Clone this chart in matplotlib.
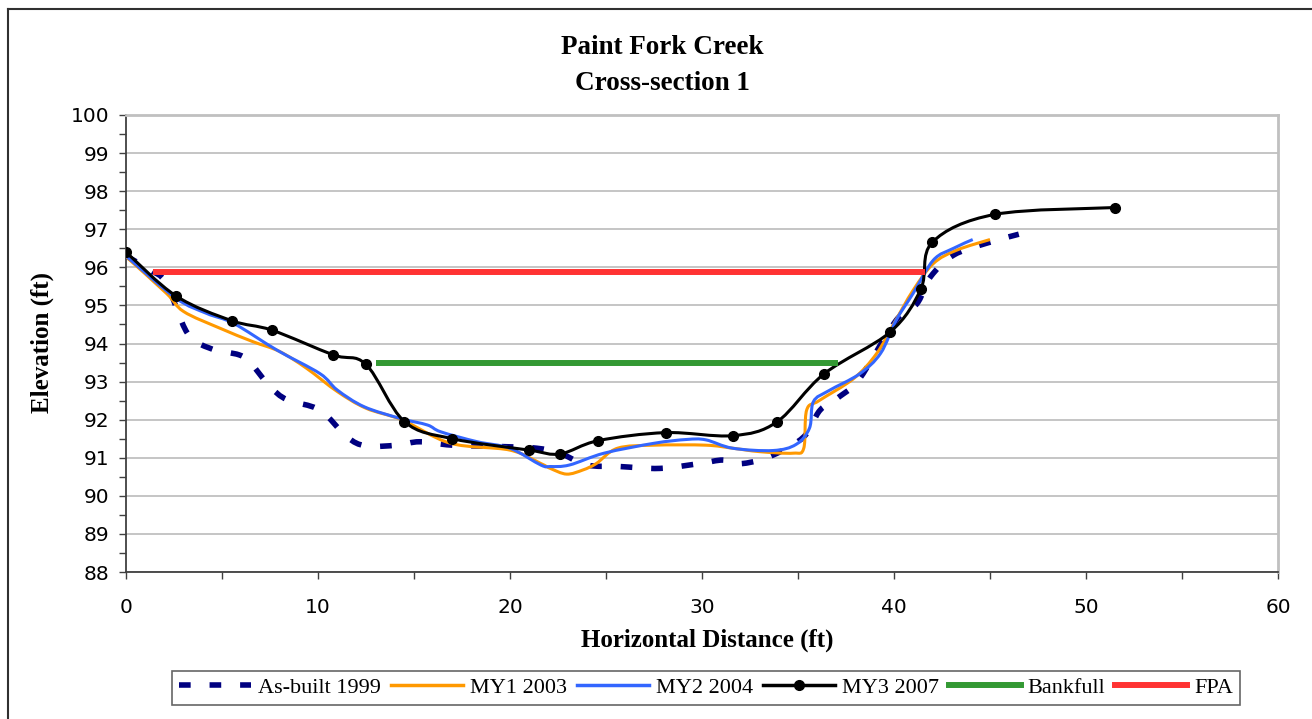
import numpy as np
import matplotlib
matplotlib.use("Agg")
import matplotlib.pyplot as plt
from matplotlib.path import Path
from matplotlib.patches import PathPatch
from matplotlib.lines import Line2D

# cross-section survey data
asbuilt_x = [0, 1.25, 2.1, 3.2, 4.4, 5.9, 6.5, 7.5, 8.4, 10.1, 11.5, 12.5, 14.1, 15.3,
             17.0, 19.8, 21.4, 22.6, 24.0, 25.7, 27.8, 29.9, 31.1, 32.15, 33.7, 35.3,
             36.15, 37.2, 38.2, 40.1, 41.2, 41.9, 43.1, 44.8, 46.5]
asbuilt_y = [96.3, 95.93, 95.58, 94.27, 93.87, 93.7, 93.48, 92.87, 92.52, 92.25, 91.55,
             91.31, 91.33, 91.42, 91.33, 91.29, 91.25, 91.12, 90.81, 90.77, 90.72, 90.85,
             90.94, 90.85, 91.07, 91.55, 92.25, 92.62, 93.07, 94.6, 95.05, 95.75, 96.32,
             96.63, 96.87]

my1_x = [0, 2.1, 3.0, 4.9, 6.6, 8.0, 9.4, 11.0, 12.5, 14.4, 16.9, 20.0, 21.6, 22.1, 22.95,
         23.8, 24.5, 25.6, 27.5, 30.2, 31.6, 33.0, 34.75, 35.3, 35.45, 36.1, 37.9, 39.1,
         40.0, 41.0, 42.05, 43.26, 45.0]
my1_y = [96.28, 95.32, 94.84, 94.4, 94.05, 93.79, 93.35, 92.74, 92.3, 91.99, 91.38, 91.2,
         90.85, 90.72, 90.57, 90.68, 90.85, 91.25, 91.33, 91.33, 91.25, 91.16, 91.12, 91.25,
         92.25, 92.5, 93.08, 93.74, 94.53, 95.4, 96.1, 96.45, 96.73]

my2_x = [0, 2.6, 4.2, 5.6, 7.85, 10.1, 11.0, 12.4, 14.3, 15.7, 16.4, 18.3, 20.0, 21.6, 22.1,
         23.1, 24.9, 27.5, 29.2, 30.2, 31.6, 33.7, 34.9, 35.6, 35.8, 36.6, 38.2, 39.3, 40.1,
         41.0, 42.05, 43.1, 44.1]
my2_y = [96.3, 95.19, 94.79, 94.53, 93.83, 93.21, 92.78, 92.34, 92.03, 91.86, 91.68, 91.42,
         91.25, 90.81, 90.77, 90.81, 91.12, 91.38, 91.48, 91.47, 91.25, 91.19, 91.35, 91.78,
         92.47, 92.76, 93.2, 93.74, 94.6, 95.32, 96.19, 96.5, 96.73]

my3_x = [0, 2.6, 5.5, 7.6, 10.8, 12.5, 14.5, 17.0, 21.0, 22.6, 24.6, 28.1, 31.6, 33.9,
         36.35, 39.8, 41.4, 42.0, 45.26, 51.5]
my3_y = [96.4, 95.25, 94.6, 94.35, 93.7, 93.45, 91.95, 91.5, 91.2, 91.1, 91.45, 91.66,
         91.58, 91.94, 93.2, 94.3, 95.43, 96.66, 97.39, 97.57]

bankfull_x = [13.0, 37.1]
bankfull_y = [93.5, 93.5]
fpa_x = [1.4, 41.6]
fpa_y = [95.87, 95.87]

C_NAVY = "#000080"
C_ORANGE = "#FF9900"
C_BLUE = "#3366FF"
C_GREEN = "#339933"
C_RED = "#FF3333"


def smooth_path(xs, ys):
    # Excel-like smoothed line: cubic bezier segments through every data point
    p = np.column_stack([xs, ys]).astype(float)
    n = len(p)
    verts = [p[0]]
    codes = [Path.MOVETO]
    for i in range(n - 1):
        p0 = p[i - 1] if i > 0 else p[i]
        p3 = p[i + 2] if i + 2 < n else p[i + 1]
        c1 = p[i] + (p[i + 1] - p0) / 6.0
        c2 = p[i + 1] - (p3 - p[i]) / 6.0
        verts += [c1, c2, p[i + 1]]
        codes += [Path.CURVE4] * 3
    return Path(verts, codes)


fig = plt.figure(figsize=(13.12, 7.19), dpi=100)
ax = fig.add_axes([126 / 1312, 1 - 572 / 719, (1278 - 126) / 1312, (572 - 115) / 719])

serif = "Liberation Serif"
sans = "DejaVu Sans"

ax.add_patch(PathPatch(smooth_path(asbuilt_x, asbuilt_y), fill=False, edgecolor=C_NAVY,
                       lw=4, linestyle=(0, (2.1, 3.4)), capstyle="butt", zorder=3))
ax.add_patch(PathPatch(smooth_path(my1_x, my1_y), fill=False, edgecolor=C_ORANGE,
                       lw=2.2, zorder=4))
ax.add_patch(PathPatch(smooth_path(my2_x, my2_y), fill=False, edgecolor=C_BLUE,
                       lw=2.2, zorder=5))
ax.add_patch(PathPatch(smooth_path(my3_x, my3_y), fill=False, edgecolor="black",
                       lw=2.2, zorder=6))
ax.plot(my3_x, my3_y, "o", color="black", ms=7, zorder=7)
ax.plot(bankfull_x, bankfull_y, color=C_GREEN, lw=4.3, solid_capstyle="butt", zorder=8)
ax.plot(fpa_x, fpa_y, color=C_RED, lw=4.3, solid_capstyle="butt", zorder=9)

ax.set_xlim(0, 60)
ax.set_ylim(88, 100)
ax.set_xticks(np.arange(0, 61, 10))
ax.set_xticks(np.arange(0, 61, 5), minor=True)
ax.set_yticks(np.arange(88, 100.1, 1))
ax.set_yticks(np.arange(88, 100.1, 0.5), minor=True)
ax.yaxis.grid(True, color="#C0C0C0", lw=1.3)
ax.set_axisbelow(True)
ax.tick_params(which="both", direction="out", length=5, width=1, color="#404040",
               labelsize=14.5)
ax.tick_params(axis="x", which="both", pad=14)
ax.tick_params(axis="y", which="both", pad=7)
for lab in ax.get_xticklabels() + ax.get_yticklabels():
    lab.set_fontfamily(sans)

for s in ["left", "bottom"]:
    ax.spines[s].set_color("#404040")
    ax.spines[s].set_linewidth(1.3)
for s in ["top", "right"]:
    ax.spines[s].set_color("#C0C0C0")
    ax.spines[s].set_linewidth(2)

fig.text(662 / 1312, 1 - 47 / 719, "Paint Fork Creek", ha="center", va="center",
         fontsize=19.5, fontweight="bold", family=serif)
fig.text(662 / 1312, 1 - 84 / 719, "Cross-section 1", ha="center", va="center",
         fontsize=19.5, fontweight="bold", family=serif)
fig.text(42 / 1312, 1 - 342 / 719, "Elevation (ft)", ha="center", va="center",
         rotation=90, fontsize=18, fontweight="bold", family=serif)
fig.text(707 / 1312, 1 - 640 / 719, "Horizontal Distance (ft)", ha="center", va="center",
         fontsize=18, fontweight="bold", family=serif)

handles = [
    Line2D([], [], color=C_NAVY, lw=4, linestyle=(0, (2.1, 3.4)), dash_capstyle="butt"),
    Line2D([], [], color=C_ORANGE, lw=2.5),
    Line2D([], [], color=C_BLUE, lw=2.5),
    Line2D([], [], color="black", lw=2.5, marker="o", ms=7),
    Line2D([], [], color=C_GREEN, lw=4.3),
    Line2D([], [], color=C_RED, lw=4.3),
]
labels = ["As-built 1999", "MY1 2003", "MY2 2004", "MY3 2007", "Bankfull", "FPA"]
leg = fig.legend(handles, labels, loc="center", bbox_to_anchor=(706 / 1312, 1 - 688 / 719),
                 ncol=6, frameon=True, fancybox=False, edgecolor="#404040",
                 prop={"family": serif, "size": 16}, handlelength=3.25,
                 handletextpad=0.3, columnspacing=0.45, borderpad=0.3)
leg.get_frame().set_linewidth(1.2)

# outer chart border (only left and top edges fall inside the image)
fig.add_artist(Line2D([8 / 1312, 8 / 1312], [0, 1 - 9 / 719], color="#303030", lw=1.5,
                      transform=fig.transFigure))
fig.add_artist(Line2D([8 / 1312, 1], [1 - 9 / 719, 1 - 9 / 719], color="#303030", lw=1.5,
                      transform=fig.transFigure))

fig.savefig("out.png", dpi=100)
